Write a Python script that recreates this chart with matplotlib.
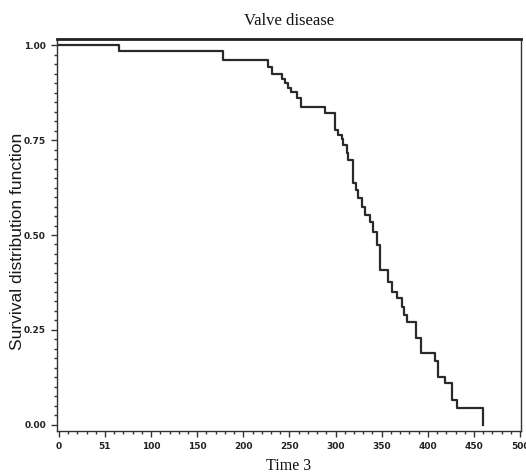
import matplotlib
matplotlib.use("Agg")
import matplotlib.pyplot as plt
from matplotlib.ticker import MultipleLocator, FixedLocator

# Kaplan-Meier step data (time of event, survival after event)
times = [0, 65, 178, 227, 230.6, 241.5, 245, 248.7, 252, 257.8, 263, 288.5,
         299.3, 303, 306.6, 308.4, 312, 313.7, 319.2, 322, 324.6, 328.3, 332,
         337.3, 341, 344.6, 348.1, 357.1, 360.8, 366.2, 371.7, 374.5, 377.1,
         387.3, 392.4, 407.8, 411.4, 418.7, 426, 432, 460]
survival = [1.0, 0.984, 0.962, 0.943, 0.925, 0.912, 0.899, 0.886, 0.877, 0.860,
            0.838, 0.820, 0.776, 0.763, 0.754, 0.737, 0.715, 0.697, 0.636, 0.618,
            0.597, 0.574, 0.553, 0.535, 0.509, 0.474, 0.408, 0.377, 0.351, 0.333,
            0.311, 0.290, 0.272, 0.228, 0.189, 0.167, 0.127, 0.110, 0.066, 0.044,
            0.0]

x_ticks = [0, 50, 100, 150, 200, 250, 300, 350, 400, 450, 500]
x_ticklabels = ["0", "51", "100", "150", "200", "250", "300", "350", "400", "450", "500"]
y_ticks = [0.0, 0.25, 0.5, 0.75, 1.0]
y_ticklabels = ["0.00", "0.25", "0.50", "0.75", "1.00"]

title = "Valve disease"
xlabel = "Time 3"
ylabel = "Survival distribution function"

W, H = 526, 473
fig = plt.figure(figsize=(W / 100, H / 100), dpi=100)
ax = fig.add_axes([57 / W, 1 - 431 / H, 464 / W, 392 / H])

ax.step(times, survival, where="post", color="#2a2a2a", lw=1.6)

ax.set_xlim(-2, 501)
ax.set_ylim(-0.016, 1.016)

tick_font = dict(family=["Liberation Sans Narrow", "DejaVu Sans"], size=6.5,
                 weight="bold", color="#222222")
ax.xaxis.set_major_locator(FixedLocator(x_ticks))
ax.set_xticklabels(x_ticklabels, **tick_font)
ax.xaxis.set_minor_locator(MultipleLocator(10))
ax.yaxis.set_major_locator(FixedLocator(y_ticks))
ax.set_yticklabels(y_ticklabels, **tick_font)
ax.yaxis.set_minor_locator(MultipleLocator(0.025))

ax.tick_params(which="major", direction="out", length=4, width=1.0, color="#333333", pad=4)
ax.tick_params(which="minor", direction="out", length=2.5, width=1.0, color="#333333")
ax.tick_params(top=False, right=False)

for s in ["left", "bottom", "right"]:
    ax.spines[s].set_linewidth(1.0)
    ax.spines[s].set_color("#333333")
ax.spines["top"].set_linewidth(2.0)
ax.spines["top"].set_color("#222222")

ax.set_title(title, family="Liberation Serif", size=12, color="#111111", pad=10)
ax.set_xlabel(xlabel, family="Liberation Serif", size=11.5, color="#111111", labelpad=5)
ax.set_ylabel(ylabel, family="Liberation Sans", size=12.5, color="#1a1a1a",
              va="center")
ax.yaxis.set_label_coords(-0.085, 0.485)

fig.savefig("out.png", dpi=100)
